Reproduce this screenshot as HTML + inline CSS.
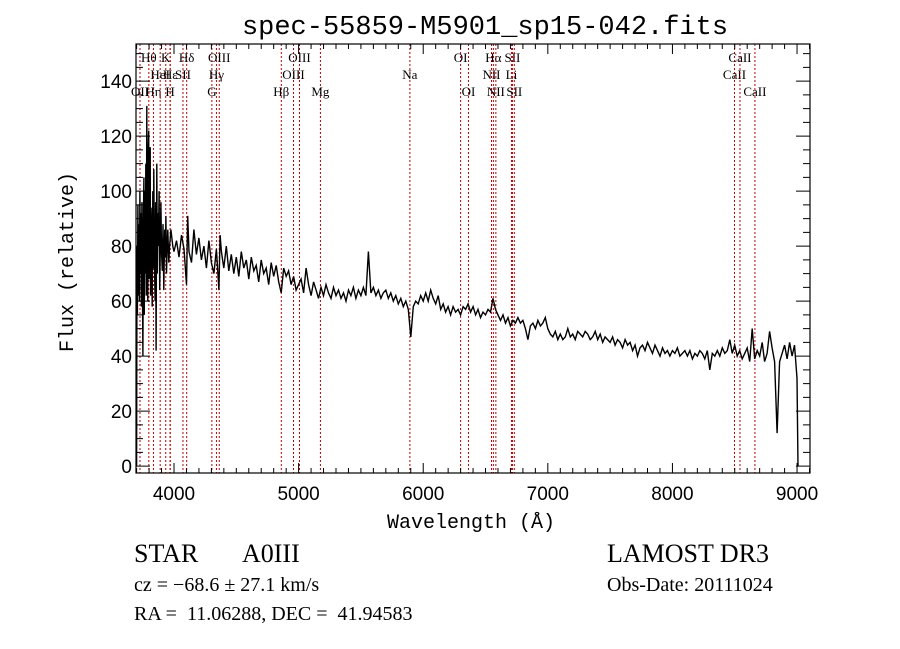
<!DOCTYPE html>
<html><head><meta charset="utf-8">
<style>
html,body{margin:0;padding:0;background:#fff;}
svg{display:block;}
.mono{font-family:"Liberation Mono",monospace;}
.serif{font-family:"Liberation Serif",serif;}
.sans{font-family:"Liberation Sans",sans-serif;}
</style></head>
<body>
<svg id="chart" width="900" height="649" viewBox="0 0 900 649" xmlns="http://www.w3.org/2000/svg">
<rect width="900" height="649" fill="#fff"/>
<text x="485" y="34" text-anchor="middle" class="mono" font-size="27" fill="#000">spec-55859-M5901_sp15-042.fits</text>
<g id="lines"></g>
<g id="spec"></g>
<g id="axes"></g>
<text x="471" y="528" text-anchor="middle" class="mono" font-size="20" fill="#000">Wavelength (Å)</text>
<text transform="translate(73,262) rotate(-90)" text-anchor="middle" class="mono" font-size="20" fill="#000">Flux (relative)</text>
<text x="134" y="562" class="serif" font-size="26" fill="#000">STAR</text>
<text x="242" y="562" class="serif" font-size="26" fill="#000">A0III</text>
<text x="607" y="562" class="serif" font-size="26" fill="#000">LAMOST DR3</text>
<text x="134" y="591" class="serif" font-size="20" fill="#000">cz = −68.6 ± 27.1 km/s</text>
<text x="607" y="591" class="serif" font-size="20" fill="#000">Obs-Date: 20111024</text>
<text x="134" y="620" class="serif" font-size="20" fill="#000" xml:space="preserve">RA =  11.06288, DEC =  41.94583</text>
</svg>
<script>
const blueWaves=[3700,3703,3706,3710,3714,3718,3722,3726,3730,3734,3738,3742,3746,3750,3754,3758,3762,3766,3770,3774,3778,3782,3786,3790,3794,3797,3801,3805,3809,3812,3816,3820,3825,3830,3834,3838,3843,3848,3852,3856,3862,3866,3870,3875,3880,3885,3890,3895,3900,3906,3912,3918,3925,3930,3935,3940,3945,3950,3958,3965,3975,3990,4000,4020,4040,4060,4080,4100,4110,4120,4140,4160,4180,4200,4220,4240,4260,4280,4300,4320,4340,4360,4370,4380,4400,4420,4440,4460,4480,4500,4520,4540,4560,4580,4600,4620,4640,4660,4680,4700,4720,4740,4760,4780,4800,4820,4840,4860,4880,4900,4920,4940,4960,4980,5000];
const blueFlux=[0,80,55,95,62,88,60,100,70,92,58,96,66,40,90,105,55,100,70,110,62,131,75,60,115,122,68,100,116,62,94,85,58,100,72,108,75,60,96,42,110,70,92,80,100,64,80,96,78,71,88,64,86,76,91,70,80,86,74,80,86,80,78,82,76,84,79,66,91,78,74,86,77,83,75,80,72,82,74,70,79,64,84,78,72,80,71,77,70,76,69,78,72,75,68,76,71,73,67,75,70,72,66,74,69,73,67,63,72,69,71,66,69,64,66];
const redStart=5020, redStep=20;
const redFlux=[68,63,72,66,62,67,64,61,65,62,66,63,61,65,62,64,61,63,60,64,62,65,61,64,62,
65,62,78,63,65,62,64,61,63,64,61,63,60,62,59,61,58,60,57,47,58,60,59,62,60,
63,60,64,61,59,62,57,59,56,58,55,58,56,57,55,58,57,59,56,58,55,57,54,56,55,
57,56,61,57,55,53,55,52,54,51,53,52,54,52,53,50,46,51,52,50,53,51,52,54,50,
48,47,49,46,48,46,47,50,47,48,46,49,48,47,49,48,46,47,49,46,48,45,47,46,45,
47,44,46,45,43,46,44,45,42,44,40,43,44,42,45,43,41,44,42,40,43,41,42,40,42,
41,43,40,41,42,40,42,39,41,40,42,41,39,42,35,41,40,42,40,43,41,42,46,41,44,
40,42,39,41,43,38,50,39,42,40,45,38,41,49,43,38,12,38,41,44,39,45,40,44,32];
const endWave=9008, endFlux=0;
const lineWaves=[3727,3798,3835,3889,3933.7,3968.5,3970,4072,4101.7,4304,4340.5,4363,4861,4959,5007,5175,5893,6300,6363,6548,6563,6583,6708,6716,6731,8498,8542,8662];
const lineLabels=["OII","Hθ","Hη","HeI","K","H","Hε","SII","Hδ","G","Hγ","OIII","Hβ","OIII","OIII","Mg","Na","OI","OI","NII","Hα","NII","Li","SII","SII","CaII","CaII","CaII"];
const lineRows=[2,0,2,1,0,2,1,1,0,2,1,0,2,1,0,2,1,0,2,1,0,2,1,0,2,1,0,2];
const xTicks=[4000,5000,6000,7000,8000,9000];
const yTicks=[0,20,40,60,80,100,120,140];

const L=136,R=810,T=44,B=473;
const X0=3695,X1=9104,Y0=-2.5,Y1=153.5;
function xs(w){return L+(w-X0)/(X1-X0)*(R-L);}
function ys(f){return B-(f-Y0)/(Y1-Y0)*(B-T);}
const NS="http://www.w3.org/2000/svg";
function mk(tag,attrs,parent){const e=document.createElementNS(NS,tag);for(const k in attrs)e.setAttribute(k,attrs[k]);parent.appendChild(e);return e;}
const gl=document.getElementById('lines'),gs=document.getElementById('spec'),ga=document.getElementById('axes');

lineWaves.forEach((w,i)=>{
  const x=xs(w);
  const ln=mk('line',{x1:x,x2:x,y1:T,y2:B,stroke:'#c00000','stroke-width':1,'stroke-dasharray':'2,2'},gl);
  
  
  const t=mk('text',{x:x,y:62+lineRows[i]*17,'text-anchor':'middle','font-size':13,'class':'serif',fill:'#000'},gl);
  t.textContent=lineLabels[i];
  
  
});

const allW=blueWaves.slice(), allF=blueFlux.slice();
redFlux.forEach((f,i)=>{allW.push(redStart+i*redStep);allF.push(f);});
allW.push(endWave);allF.push(endFlux);
let d='';
allW.forEach((w,i)=>{d+=(i?'L':'M')+xs(w).toFixed(1)+','+ys(allF[i]).toFixed(1);});
const p=mk('path',{d:d,fill:'none',stroke:'#000','stroke-width':1.4,'stroke-linejoin':'miter'},gs);



const fr=mk('rect',{x:L,y:T,width:R-L,height:B-T,fill:'none',stroke:'#000','stroke-width':1.2},ga);


let td='';
for(let w=3700;w<=9100;w+=100){const x=xs(w);const len=(w%1000===0)?10:5;td+=`M${x},${B}v${-len}M${x},${T}v${len}`;}
for(let f=0;f<=150;f+=5){const y=ys(f);const len=(f%20===0)?14:7;td+=`M${L},${y}h${len}M${R},${y}h${-len}`;}
const tk=mk('path',{d:td,stroke:'#000','stroke-width':1,fill:'none'},ga);


xTicks.forEach(v=>{const t=mk('text',{x:xs(v),y:B+27,'text-anchor':'middle','font-size':19,'class':'sans',fill:'#000'},ga);t.textContent=v;
  
  });
yTicks.forEach(v=>{const t=mk('text',{x:L-4,y:ys(v)+7,'text-anchor':'end','font-size':19,'class':'sans',fill:'#000'},ga);t.textContent=v;
  
  });
</script>
</body></html>
